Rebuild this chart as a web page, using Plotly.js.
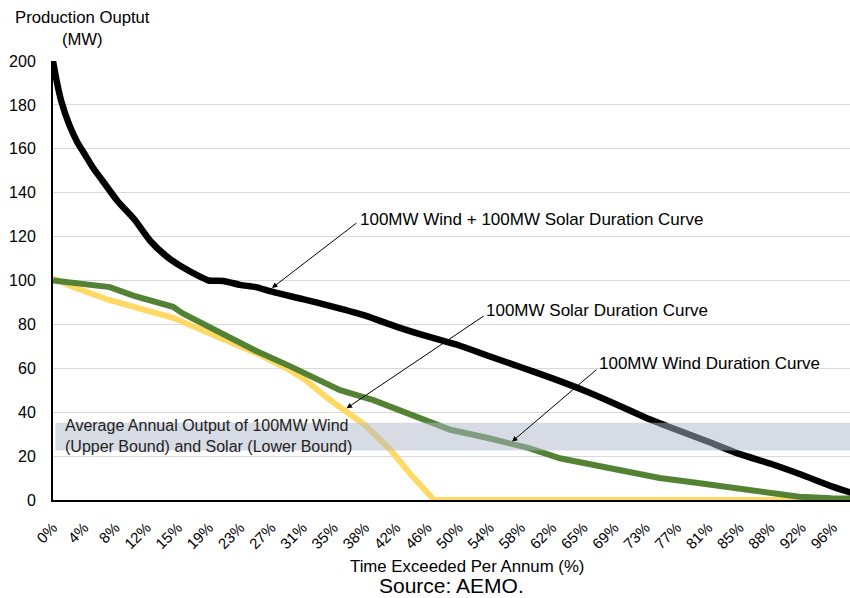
<!DOCTYPE html>
<html>
<head>
<meta charset="utf-8">
<script src="https://cdn.plot.ly/plotly-3.0.1.min.js"></script>
<style>html,body{margin:0;padding:0;background:#fff;}#chart{width:850px;height:598px;}</style>
</head>
<body>
<div id="chart"></div>
<script>
// Time exceeded per annum (%) and production (MW)
var combinedX = [0, 0.5, 1, 2, 3, 4, 5, 6, 8, 10, 12, 14, 16, 18, 19.2, 21, 23.1, 25, 26.9, 30.8, 34.6, 38.5, 42.3, 46.2, 50, 53.8, 57.7, 61.5, 65.4, 69.2, 73.1, 76.9, 80.8, 84.6, 88.5, 92.3, 96.2, 100];
var combinedY = [200, 190, 182, 171, 163, 157, 151, 146, 136, 128, 118, 111, 106, 102, 100, 99.8, 98, 97, 95, 91.5, 88, 84, 79, 74.5, 70.5, 65.5, 60.5, 55.5, 50, 44, 37.5, 32, 26.5, 21, 16.5, 11.5, 6, 1.5];

var windX = [0, 3, 7, 10, 14.8, 16, 20.6, 25, 29.2, 35.4, 39.5, 43.2, 46, 49, 53.9, 58.8, 62.5, 67.4, 71, 74.8, 80, 84, 88, 92, 96, 100];
var windY = [100, 99, 97, 93, 88, 85, 76, 68, 61, 50, 45.5, 40.5, 36, 32, 28, 23.5, 19, 15.5, 13, 10, 7.5, 5.3, 3.5, 1.5, 0.8, 0.5];

var solarX = [0, 2.5, 7, 10, 14.8, 16.1, 20.6, 25, 28.8, 31, 34, 36.2, 38.5, 41.6, 44, 46, 47, 60, 80, 100];
var solarY = [101, 97, 91, 88, 83, 81, 74, 67, 60, 55, 46, 40, 34, 23, 12, 4, 0, 0, 0, 0];

var tickLabels = ['0%','4%','8%','12%','15%','19%','23%','27%','31%','35%','38%','42%','46%','50%','54%','58%','62%','65%','69%','73%','77%','81%','85%','88%','92%','96%'];
var tickPositions = tickLabels.map(function (_, i) { return i * 100 / 26; });

var bandLow = 22.5, bandHigh = 35.2;

var FONT = 'Liberation Sans, Arial, Helvetica, sans-serif';

var traces = [
  {x: solarX, y: solarY, type: 'scatter', mode: 'lines', line: {color: '#ffd966', width: 6}, hoverinfo: 'skip'},
  {x: windX, y: windY, type: 'scatter', mode: 'lines', line: {color: '#548235', width: 6}, hoverinfo: 'skip'},
  {x: combinedX, y: combinedY, type: 'scatter', mode: 'lines', line: {color: '#000000', width: 6.5, shape: 'spline', smoothing: 0.6}, hoverinfo: 'skip'}
];

function arrow(hx, hy, tx, ty) {
  return {x: hx, y: hy, ax: tx, ay: ty, xref: 'x', yref: 'y', axref: 'x', ayref: 'y',
    text: '', showarrow: true, arrowhead: 2, arrowsize: 1.1, arrowwidth: 1, arrowcolor: '#000', standoff: 0, startstandoff: 0};
}
function label(txt, x, y) {
  return {x: x, y: y, xref: 'x', yref: 'y', text: txt, showarrow: false, xanchor: 'left', yanchor: 'middle',
    font: {family: FONT, size: 17, color: '#000'}};
}

var layout = {
  width: 850, height: 598,
  margin: {l: 53, r: 0, t: 61, b: 98},
  paper_bgcolor: '#ffffff', plot_bgcolor: '#ffffff',
  showlegend: false,
  font: {family: FONT, size: 16, color: '#000'},
  xaxis: {
    range: [0, 98.27], tickmode: 'array', tickvals: tickPositions, ticktext: tickLabels,
    tickangle: -45, tickfont: {family: FONT, size: 15, color: '#000'},
    showgrid: false, zeroline: false, showline: true, linecolor: '#000', linewidth: 2,
    ticks: '', ticklabelstandoff: 11, layer: 'below traces', fixedrange: true
  },
  yaxis: {
    range: [0, 200], tickvals: [0, 20, 40, 60, 80, 100, 120, 140, 160, 180, 200],
    tickfont: {family: FONT, size: 16, color: '#000'},
    showgrid: true, gridcolor: '#d9d9d9', gridwidth: 1, zeroline: false,
    showline: true, linecolor: '#000', linewidth: 2, ticks: '', ticklabelstandoff: 12,
    layer: 'below traces', fixedrange: true
  },
  shapes: [
    {type: 'rect', xref: 'paper', yref: 'y', x0: 0.003, x1: 1, y0: bandLow, y1: bandHigh,
     fillcolor: 'rgba(173,184,202,0.5)', line: {width: 0}, layer: 'above'}
  ],
  annotations: [
    arrow(27.0, 96.6, 37.6, 126.7),
    arrow(36.2, 41.8, 53.3, 84.3),
    arrow(56.6, 26.6, 67.2, 60.0),
    label('100MW Wind + 100MW Solar Duration Curve', 37.6, 127.6),
    label('100MW Solar Duration Curve', 53.2, 86.2),
    label('100MW Wind Duration Curve', 67.1, 62.2),
    {x: 1.2, y: 29.0, xref: 'x', yref: 'y', text: 'Average Annual Output of 100MW Wind<br>(Upper Bound) and Solar (Lower Bound)',
     showarrow: false, xanchor: 'left', yanchor: 'middle', align: 'left', font: {family: FONT, size: 16, color: '#222'}},
    {x: 0.0364, y: 1.073, xref: 'paper', yref: 'paper', text: 'Production Ouptut<br>(MW)', showarrow: false,
     xanchor: 'center', yanchor: 'middle', align: 'center', font: {family: FONT, size: 16.7, color: '#000'}},
    {x: 0.519, y: -0.1526, xref: 'paper', yref: 'paper', text: 'Time Exceeded Per Annum (%)', showarrow: false,
     xanchor: 'center', yanchor: 'middle', font: {family: FONT, size: 16.8, color: '#000'}},
    {x: 0.5, y: -0.195, xref: 'paper', yref: 'paper', text: 'Source: AEMO.', showarrow: false,
     xanchor: 'center', yanchor: 'middle', font: {family: FONT, size: 21, color: '#000'}}
  ]
};

Plotly.newPlot('chart', traces, layout, {displayModeBar: false, staticPlot: true});
</script>
</body>
</html>
